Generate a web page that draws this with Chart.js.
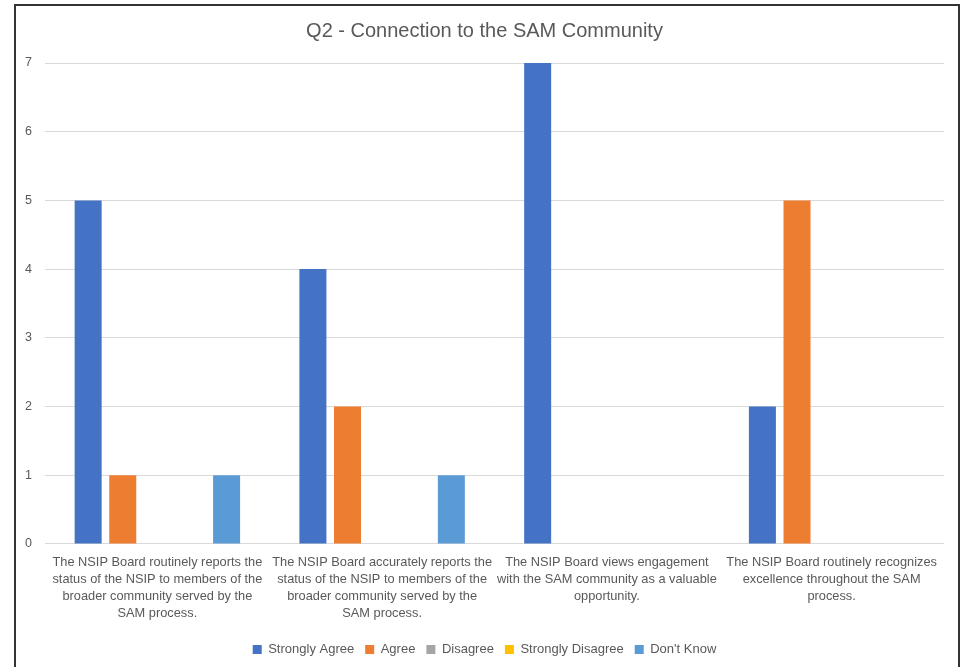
<!DOCTYPE html>
<html>
<head>
<meta charset="utf-8">
<title>Q2 - Connection to the SAM Community</title>
<script src="https://cdn.jsdelivr.net/npm/chart.js@4/dist/chart.umd.min.js"></script>
<style>
  html, body { margin: 0; padding: 0; background: #fff; overflow: hidden; }
  #frame {
    position: absolute; left: 14px; top: 4px;
    width: 942px; height: 672px;
    border: 2px solid #333;
    background: #fff;
  }
  #chart { display: block; }
</style>
</head>
<body>
<div id="frame"><canvas id="chart" width="942" height="672"></canvas></div>
<script>
// survey statements (x axis), wrapped the way they show under the bars
var categories = [
  ['The NSIP Board routinely reports the', 'status of the NSIP to members of the', 'broader community served by the', 'SAM process.'],
  ['The NSIP Board accurately reports the', 'status of the NSIP to members of the', 'broader community served by the', 'SAM process.'],
  ['The NSIP Board views engagement', 'with the SAM community as a valuable', 'opportunity.'],
  ['The NSIP Board routinely recognizes', 'excellence throughout the SAM', 'process.']
];

// response counts per statement
var stronglyAgree    = [5, 4, 7, 2];
var agree            = [1, 2, 0, 5];
var disagree         = [0, 0, 0, 0];
var stronglyDisagree = [0, 0, 0, 0];
var dontKnow         = [1, 1, 0, 0];

var yTicks = [0, 1, 2, 3, 4, 5, 6, 7];

var textGrey = '#595959';
var font = 'Liberation Sans, Arial, sans-serif';

function series(label, data, color) {
  return {
    label: label,
    data: data,
    backgroundColor: color,
    borderWidth: 0,
    categoryPercentage: 0.77,
    barPercentage: 0.78
  };
}

var ctx = document.getElementById('chart');
var myChart = new Chart(ctx, {
  type: 'bar',
  data: {
    labels: categories,
    datasets: [
      series('Strongly Agree', stronglyAgree, '#4472C4'),
      series('Agree', agree, '#ED7D31'),
      series('Disagree', disagree, '#A5A5A5'),
      series('Strongly Disagree', stronglyDisagree, '#FFC000'),
      series("Don't Know", dontKnow, '#5B9BD5')
    ]
  },
  options: {
    responsive: false,
    animation: false,
    // left padding + narrower y axis keeps title/legend nearer the plot centre
    layout: { padding: { left: 9, right: 14, top: 0, bottom: 12 } },
    plugins: {
      title: {
        display: true,
        text: 'Q2 - Connection to the SAM Community',
        color: textGrey,
        font: { family: font, size: 20, weight: 'normal' },
        padding: { top: 13, bottom: 20 }
      },
      legend: {
        position: 'bottom',
        labels: {
          boxWidth: 9,
          boxHeight: 9,
          padding: 11,
          color: textGrey,
          font: { family: font, size: 13 }
        }
      },
      tooltip: { enabled: false }
    },
    scales: {
      x: {
        grid: { display: false, drawTicks: false },
        border: { display: false },
        ticks: {
          color: textGrey,
          autoSkip: false,
          maxRotation: 0,
          padding: 10,
          font: { family: font, size: 12.8, lineHeight: 1.33 }
        }
      },
      y: {
        min: 0,
        max: 7,
        afterFit: function(scale) { scale.width = 20; },
        afterBuildTicks: function(scale) {
          scale.ticks = yTicks.map(function(v) { return { value: v }; });
        },
        grid: { color: '#D9D9D9', drawTicks: false },
        border: { display: false },
        ticks: {
          color: textGrey,
          padding: 13,
          font: { family: font, size: 12.5 }
        }
      }
    }
  }
});
</script>
</body>
</html>
